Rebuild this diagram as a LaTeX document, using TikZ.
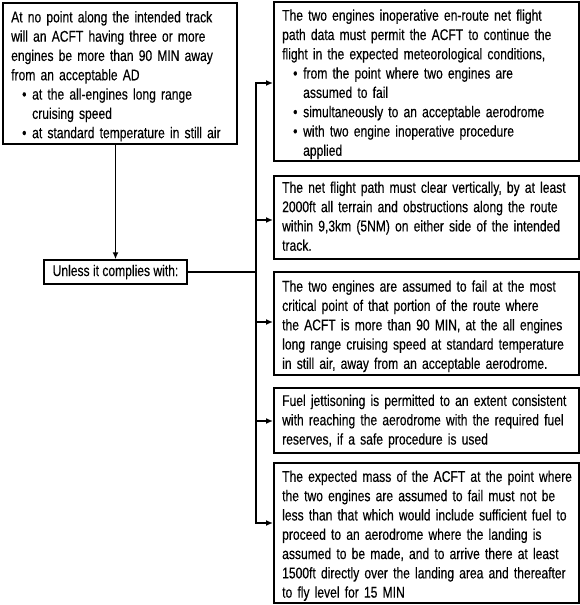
\documentclass[tikz,border=0pt]{standalone}
\usepackage{fontspec}
\setmainfont{Liberation Sans}[FakeStretch=0.78, FakeBold=0.3]
\usetikzlibrary{arrows.meta}
\setlength{\parindent}{0pt}
\newcommand{\bl}{\hspace*{11pt}\makebox[10pt][l]{\textbullet}}
\newcommand{\ci}{\hspace*{21pt}}
\begin{document}
\begin{tikzpicture}[x=1pt,y=-1pt,
  frame/.style={draw, line width=1.5pt, rectangle, inner sep=0pt, anchor=north west},
  txt/.style={inner xsep=9pt, inner ysep=0pt, text width=340pt, align=left,
    anchor=west, font=\fontsize{15.5}{19.3}\selectfont},
  conn/.style={line width=1.5pt},
  arr/.style={conn, -{Latex[length=7pt,width=6pt]}}]
\useasboundingbox (0,0) rectangle (579,605);

\node[frame, minimum width=234pt, minimum height=141pt] (A) at (2,2) {};
\node[txt] (At) at ([yshift=-3pt]A.west)
 {At no point along the intended track\\
  will an ACFT having three or more\\
  engines be more than 90 MIN away\\
  from an acceptable AD\\
  \bl at the all-engines long range\\
  \ci cruising speed\\
  \bl at standard temperature in still air};

\node[frame, minimum width=143pt, minimum height=24pt, anchor=center] (U) at (115.5,272) {};
\node[txt, text width=, anchor=center, inner xsep=0pt] (Ut) at (U.center) {Unless it complies with:};

\node[frame, minimum width=305pt, minimum height=159pt] (B1) at (273,1) {};
\node[txt] (B1t) at ([yshift=-3pt]B1.west)
 {The two engines inoperative en-route net flight\\
  path data must permit the ACFT to continue the\\
  flight in the expected meteorological conditions,\\
  \bl from the point where two engines are\\
  \ci assumed to fail\\
  \bl simultaneously to an acceptable aerodrome\\
  \bl with two engine inoperative procedure\\
  \ci applied};

\node[frame, minimum width=305pt, minimum height=83pt] (B2) at (273,175) {};
\node[txt] (B2t) at ([yshift=1pt]B2.west)
 {The net flight path must clear vertically, by at least\\
  2000ft all terrain and obstructions along the route\\
  within 9,3km (5NM) on either side of the intended\\
  track.};

\node[frame, minimum width=305pt, minimum height=103pt] (B3) at (273,271) {};
\node[txt] (B3t) at ([yshift=-3pt]B3.west)
 {The two engines are assumed to fail at the most\\
  critical point of that portion of the route where\\
  the ACFT is more than 90 MIN, at the all engines\\
  long range cruising speed at standard temperature\\
  in still air, away from an acceptable aerodrome.};

\node[frame, minimum width=305pt, minimum height=65pt] (B4) at (273,387) {};
\node[txt] (B4t) at ([yshift=-1pt]B4.west)
 {Fuel jettisoning is permitted to an extent consistent\\
  with reaching the aerodrome with the required fuel\\
  reserves, if a safe procedure is used};

\node[frame, minimum width=305pt, minimum height=140pt] (B5) at (273,462) {};
\node[txt] (B5t) at ([yshift=-3pt]B5.west)
 {The expected mass of the ACFT at the point where\\
  the two engines are assumed to fail must not be\\
  less than that which would include sufficient fuel to\\
  proceed to an aerodrome where the landing is\\
  assumed to be made, and to arrive there at least\\
  1500ft directly over the landing area and thereafter\\
  to fly level for 15 MIN};

\coordinate (J) at (256,272);
\coordinate (t1) at (256,83);
\coordinate (t2) at (256,220);
\coordinate (t3) at (256,322);
\coordinate (t4) at (256,421);
\coordinate (t5) at (256,523);

\draw[arr] (A.south -| U.north) -- (U.north);
\draw[conn] (U.east) -- (J);
\draw[arr] (J) -- (t1) -- (t1 -| B1.west);
\draw[arr] (J) -- (t5) -- (t5 -| B5.west);
\draw[arr] (t2) -- (t2 -| B2.west);
\draw[arr] (t3) -- (t3 -| B3.west);
\draw[arr] (t4) -- (t4 -| B4.west);
\end{tikzpicture}
\end{document}
